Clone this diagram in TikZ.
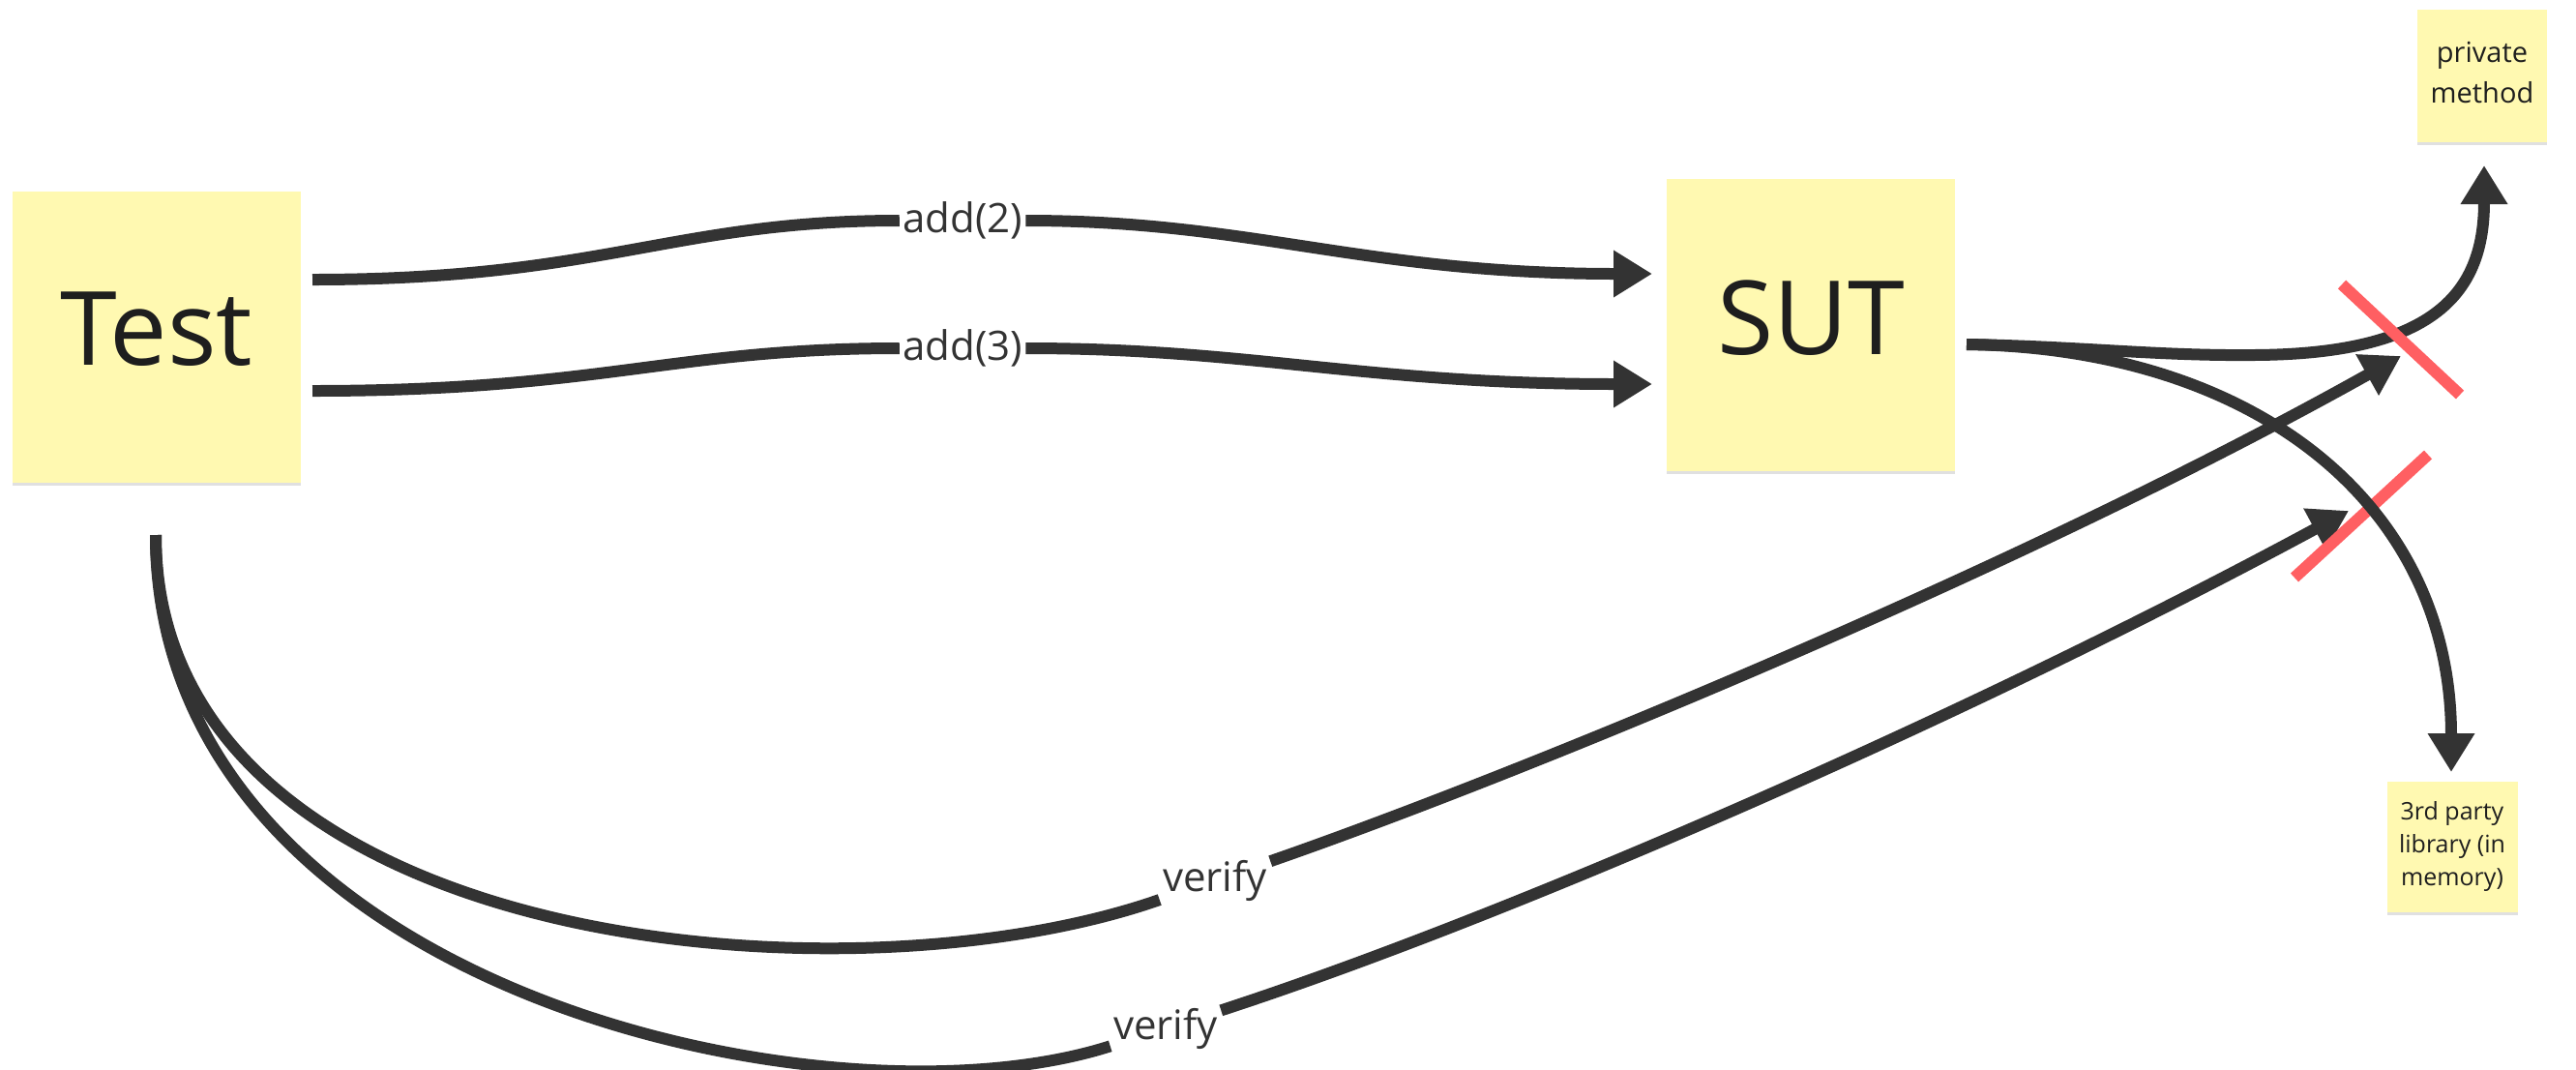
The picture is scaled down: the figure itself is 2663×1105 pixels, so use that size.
\documentclass[tikz,border=0pt]{standalone}
\usepackage{fontspec}
\setmainfont{Open Sans}
\usetikzlibrary{arrows.meta,shadows}
\definecolor{stickyfill}{HTML}{FFF9B1}
\definecolor{inkcol}{HTML}{1E1E1E}
\definecolor{conncol}{HTML}{333333}
\definecolor{crosscol}{HTML}{FF5F62}
\tikzset{
  note/.style={fill=stickyfill, draw=none, text=inkcol, inner sep=0pt, align=center,
    drop shadow={shadow xshift=0pt, shadow yshift=-1.5pt, opacity=0.12, fill=black}},
  conn/.style={draw=conncol, line width=6pt, -{Triangle[length=20pt,width=23pt]}},
  lbl/.style={text=conncol, inner sep=1.5pt, font=\fontsize{21}{25}\selectfont},
  crossline/.style={draw=crosscol, line width=6pt},
}
\begin{document}
\begin{tikzpicture}[x=0.5pt,y=-0.5pt]
\fill[white] (0,0) rectangle (2663,1105);
\useasboundingbox (0,0) rectangle (2663,1105);

% sticky notes
\node[note, minimum width=149pt, minimum height=150.5pt, text depth=8pt,
      font=\fontsize{53}{60}\selectfont] (test) at (162,348) {Test};
\node[note, minimum width=149pt, minimum height=151pt, text depth=8pt,
      font=\fontsize{53}{60}\selectfont] (sut) at (1872,336) {SUT};
\node[note, minimum width=67pt, minimum height=68.5pt,
      font=\fontsize{14.5}{21}\selectfont] (priv) at (2566,78) {private\\method\vphantom{y}};
\node[note, minimum width=67.5pt, minimum height=67.5pt,
      font=\fontsize{12.5}{17}\selectfont] (lib) at (2535,875) {3rd party\\library (in\\memory)};

% connector ends
\coordinate (a2s) at (323,289);
\coordinate (a2e) at (1708,283);
\coordinate (a3s) at (323,404);
\coordinate (a3e) at (1708,397);
\coordinate (sutout) at (2033,356);
\coordinate (privin) at (2568,171);
\coordinate (libin) at (2534,798);
\coordinate (testout) at (161,553);
\coordinate (v1e) at (2482,368);
\coordinate (v2e) at (2428,528);

% labels
\node[lbl] (add2) at (995,228) {add(2)};
\node[lbl] (add3) at (995,360) {add(3)};
\node[lbl] (ver1) at (1256,910) {verify};
\node[lbl] (ver2) at (1205,1063) {verify};

% connectors
\draw[conn] (a2s) .. controls (623,289) and (695,228) .. (add2)
            .. controls (1295,228) and (1408,283) .. (a2e);
\draw[conn] (a3s) .. controls (623,404) and (695,360) .. (add3)
            .. controls (1295,360) and (1408,397) .. (a3e);
\draw[conn] (testout) .. controls (161,980) and (870,1045) .. (ver1)
            .. controls (1556,806) and (2082,592) .. (v1e);
\draw[conn] (testout) .. controls (161,1020) and (855,1175) .. (ver2)
            .. controls (1555,949) and (2028,744) .. (v2e);
\draw[conn] (sutout) .. controls (2150,358) and (2230,368) .. (2330,367)
            .. controls (2520,366) and (2568,300) .. (privin);

% crosses
\draw[crossline] (2421,294) -- (2543,408);
\draw[crossline] (2510,470) -- (2372,597);

\draw[conn] (sutout) .. controls (2330,360) and (2534,520) .. (libin);
\end{tikzpicture}
\end{document}
